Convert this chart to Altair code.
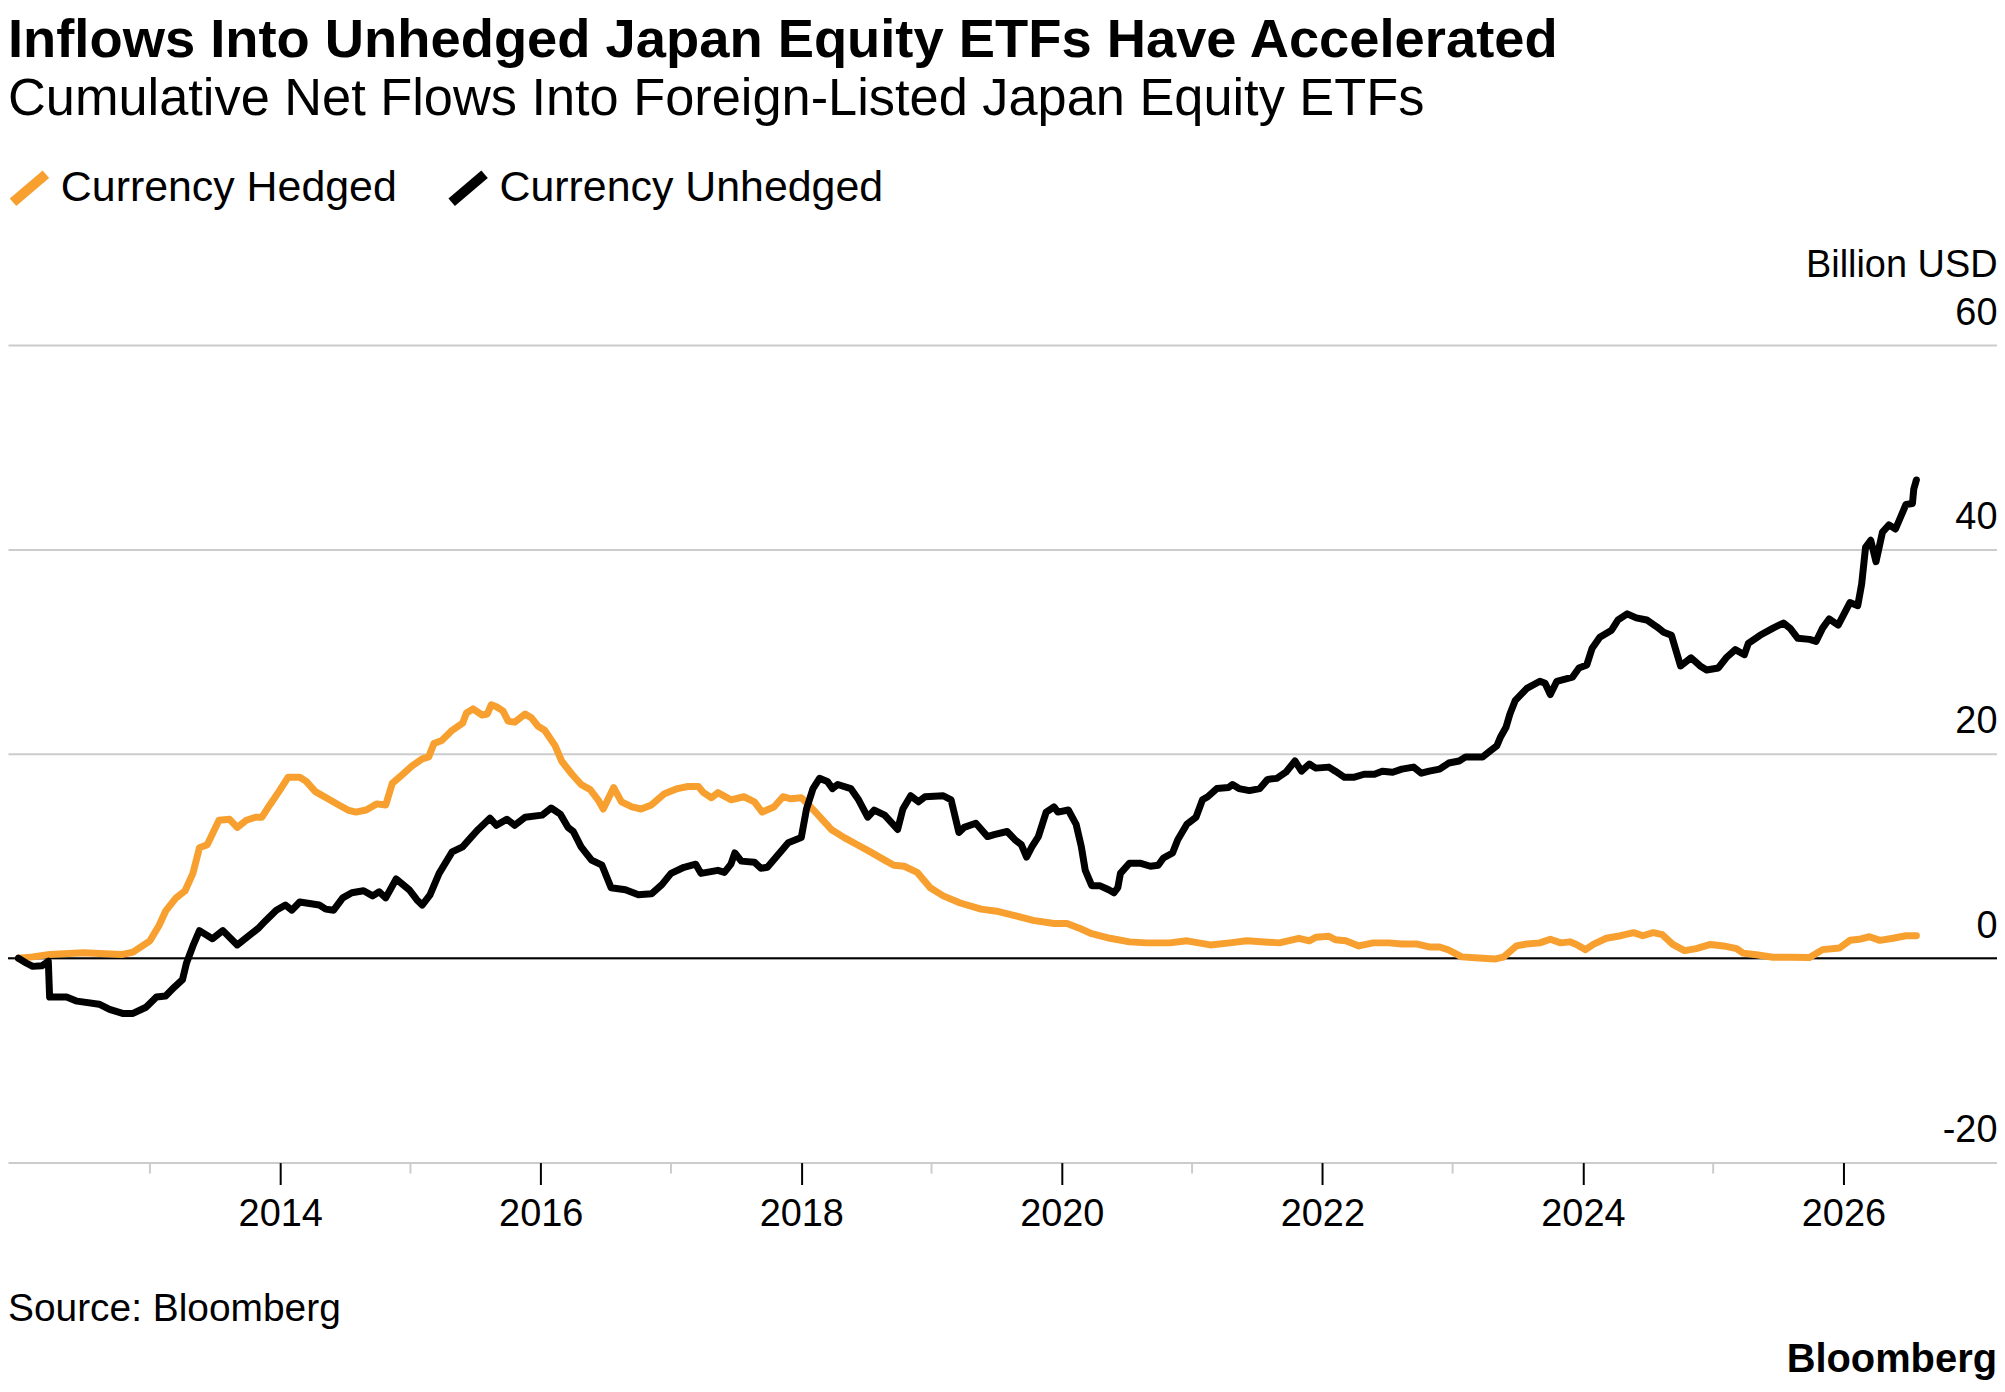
import altair as alt
import pandas as pd

TITLE = "Inflows Into Unhedged Japan Equity ETFs Have Accelerated"
SUBTITLE = "Cumulative Net Flows Into Foreign-Listed Japan Equity ETFs"
SOURCE = "Source: Bloomberg"
LOGO = "Bloomberg"
Y_TITLE = "Billion USD"

SERIES = ["Currency Hedged", "Currency Unhedged"]
COLORS = ["#F7A030", "#000000"]

Y_TICKS = [-20, 0, 20, 40, 60]
X_MAJOR = [2014, 2016, 2018, 2020, 2022, 2024, 2026]
X_MINOR = [2013, 2015, 2017, 2019, 2021, 2023, 2025]

# Currency Hedged (orange) - decimal year / billion USD
HEDGED_YEAR = [
    2011.99, 2012.10, 2012.23, 2012.49, 2012.61, 2012.79, 2012.87, 2013.00, 2013.07, 2013.12,
    2013.20, 2013.27, 2013.33, 2013.38, 2013.44, 2013.53, 2013.61, 2013.67, 2013.74, 2013.81,
    2013.86, 2013.92, 2013.99, 2014.06, 2014.15, 2014.20, 2014.27, 2014.38, 2014.45, 2014.52,
    2014.58, 2014.66, 2014.74, 2014.81, 2014.86, 2014.94, 2015.01, 2015.09, 2015.14, 2015.18,
    2015.24, 2015.32, 2015.40, 2015.43, 2015.48, 2015.55, 2015.59, 2015.62, 2015.66, 2015.71,
    2015.75, 2015.80, 2015.88, 2015.93, 2015.98, 2016.03, 2016.11, 2016.16, 2016.24, 2016.31,
    2016.38, 2016.44, 2016.48, 2016.56, 2016.62, 2016.70, 2016.77, 2016.85, 2016.95, 2017.05,
    2017.13, 2017.21, 2017.25, 2017.31, 2017.36, 2017.46, 2017.56, 2017.64, 2017.70, 2017.79,
    2017.86, 2017.92, 2018.00, 2018.05, 2018.13, 2018.23, 2018.33, 2018.43, 2018.53, 2018.64,
    2018.71, 2018.79, 2018.89, 2018.99, 2019.09, 2019.22, 2019.38, 2019.50, 2019.63, 2019.78,
    2019.94, 2020.04, 2020.14, 2020.23, 2020.37, 2020.52, 2020.65, 2020.83, 2020.96, 2021.14,
    2021.29, 2021.42, 2021.67, 2021.82, 2021.90, 2021.95, 2022.05, 2022.10, 2022.18, 2022.28,
    2022.39, 2022.51, 2022.61, 2022.72, 2022.82, 2022.90, 2022.97, 2023.07, 2023.20, 2023.33,
    2023.39, 2023.49, 2023.57, 2023.67, 2023.75, 2023.83, 2023.90, 2023.95, 2024.02, 2024.08,
    2024.18, 2024.29, 2024.39, 2024.46, 2024.54, 2024.61, 2024.69, 2024.78, 2024.87, 2024.98,
    2025.08, 2025.18, 2025.23, 2025.33, 2025.46, 2025.59, 2025.74, 2025.84, 2025.97, 2026.05,
    2026.12, 2026.20, 2026.28, 2026.38, 2026.48, 2026.56,
]
HEDGED_VALUE = [
    0.0, 0.13, 0.37, 0.54, 0.47, 0.37, 0.6, 1.7, 3.2, 4.6,
    5.9, 6.6, 8.3, 10.8, 11.1, 13.5, 13.6, 12.8, 13.5, 13.8,
    13.8, 15.0, 16.3, 17.7, 17.7, 17.3, 16.3, 15.5, 15.0, 14.5,
    14.3, 14.5, 15.1, 15.0, 17.1, 18.0, 18.8, 19.5, 19.7, 21.0,
    21.3, 22.3, 23.0, 24.0, 24.4, 23.8, 23.9, 24.8, 24.6, 24.2,
    23.2, 23.1, 23.9, 23.5, 22.7, 22.3, 20.8, 19.3, 18.0, 17.0,
    16.5, 15.5, 14.6, 16.7, 15.3, 14.8, 14.6, 15.0, 16.1, 16.6,
    16.8, 16.8, 16.2, 15.7, 16.2, 15.5, 15.8, 15.3, 14.3, 14.8,
    15.8, 15.6, 15.7, 15.1, 14.0, 12.6, 11.8, 11.1, 10.4, 9.6,
    9.1, 9.0, 8.4, 6.9, 6.1, 5.4, 4.8, 4.6, 4.2, 3.7,
    3.4, 3.4, 2.9, 2.4, 1.95, 1.6, 1.5, 1.5, 1.7, 1.3,
    1.5, 1.7, 1.5, 1.95, 1.7, 2.05, 2.15, 1.8, 1.7, 1.2,
    1.5, 1.5, 1.4, 1.4, 1.1, 1.1, 0.8, 0.13, 0.03, -0.07,
    0.1, 1.2, 1.4, 1.5, 1.85, 1.5, 1.6, 1.35, 0.84, 1.35,
    1.95, 2.2, 2.5, 2.2, 2.5, 2.3, 1.35, 0.74, 0.94, 1.35,
    1.2, 0.94, 0.5, 0.34, 0.1, 0.1, 0.07, 0.84, 1.0, 1.75,
    1.85, 2.1, 1.75, 1.95, 2.2, 2.2,
]

# Currency Unhedged (black) - decimal year / billion USD
UNHEDGED_YEAR = [
    2011.99, 2012.05, 2012.10, 2012.17, 2012.22, 2012.23, 2012.36, 2012.44, 2012.61, 2012.69,
    2012.79, 2012.87, 2012.97, 2013.05, 2013.12, 2013.19, 2013.25, 2013.28, 2013.33, 2013.38,
    2013.48, 2013.56, 2013.67, 2013.74, 2013.83, 2013.89, 2013.97, 2014.04, 2014.09, 2014.15,
    2014.30, 2014.35, 2014.41, 2014.48, 2014.55, 2014.64, 2014.71, 2014.76, 2014.81, 2014.89,
    2014.99, 2015.05, 2015.09, 2015.15, 2015.22, 2015.32, 2015.40, 2015.47, 2015.52, 2015.61,
    2015.66, 2015.74, 2015.80, 2015.88, 2016.01, 2016.08, 2016.15, 2016.21, 2016.25, 2016.31,
    2016.39, 2016.47, 2016.54, 2016.65, 2016.75, 2016.85, 2016.93, 2017.00, 2017.10, 2017.19,
    2017.23, 2017.36, 2017.41, 2017.46, 2017.49, 2017.54, 2017.64, 2017.69, 2017.74, 2017.84,
    2017.90, 2018.00, 2018.04, 2018.09, 2018.14, 2018.20, 2018.24, 2018.28, 2018.38, 2018.44,
    2018.51, 2018.56, 2018.64, 2018.74, 2018.78, 2018.84, 2018.90, 2018.95, 2019.09, 2019.15,
    2019.21, 2019.25, 2019.34, 2019.43, 2019.48, 2019.58, 2019.64, 2019.69, 2019.73, 2019.77,
    2019.82, 2019.88, 2019.94, 2019.97, 2020.05, 2020.11, 2020.15, 2020.18, 2020.23, 2020.29,
    2020.36, 2020.40, 2020.43, 2020.45, 2020.52, 2020.60, 2020.68, 2020.74, 2020.78, 2020.85,
    2020.89, 2020.96, 2021.03, 2021.08, 2021.12, 2021.19, 2021.28, 2021.31, 2021.36, 2021.44,
    2021.52, 2021.58, 2021.65, 2021.72, 2021.79, 2021.84, 2021.90, 2021.95, 2022.05, 2022.10,
    2022.17, 2022.24, 2022.32, 2022.40, 2022.46, 2022.54, 2022.61, 2022.70, 2022.76, 2022.82,
    2022.90, 2022.97, 2023.05, 2023.10, 2023.23, 2023.29, 2023.34, 2023.37, 2023.41, 2023.44,
    2023.48, 2023.57, 2023.67, 2023.71, 2023.75, 2023.80, 2023.92, 2023.97, 2024.03, 2024.07,
    2024.13, 2024.22, 2024.27, 2024.34, 2024.41, 2024.49, 2024.57, 2024.62, 2024.68, 2024.75,
    2024.83, 2024.90, 2024.95, 2025.04, 2025.10, 2025.17, 2025.24, 2025.27, 2025.36, 2025.46,
    2025.54, 2025.59, 2025.65, 2025.74, 2025.79, 2025.84, 2025.89, 2025.96, 2026.05, 2026.11,
    2026.14, 2026.17, 2026.21, 2026.25, 2026.30, 2026.35, 2026.40, 2026.44, 2026.48, 2026.53,
    2026.54, 2026.56,
]
UNHEDGED_VALUE = [
    0.0, -0.47, -0.8, -0.74, -0.3, -3.8, -3.8, -4.2, -4.5, -5.0,
    -5.4, -5.4, -4.8, -3.8, -3.7, -2.8, -2.1, -0.5, 1.2, 2.7,
    1.9, 2.7, 1.3, 2.0, 2.9, 3.7, 4.7, 5.2, 4.7, 5.5,
    5.2, 4.8, 4.7, 5.9, 6.4, 6.6, 6.1, 6.5, 5.9, 7.75,
    6.7, 5.7, 5.2, 6.2, 8.3, 10.4, 10.9, 11.9, 12.6, 13.7,
    13.0, 13.6, 13.0, 13.8, 14.0, 14.7, 14.1, 12.8, 12.4, 10.9,
    9.6, 9.1, 6.9, 6.7, 6.2, 6.3, 7.2, 8.3, 8.9, 9.2,
    8.3, 8.6, 8.4, 9.2, 10.3, 9.5, 9.4, 8.8, 8.9, 10.4,
    11.3, 11.8, 14.6, 16.6, 17.6, 17.3, 16.6, 17.0, 16.6, 15.5,
    13.8, 14.5, 14.0, 12.6, 14.6, 15.9, 15.3, 15.8, 15.9, 15.5,
    12.3, 12.8, 13.2, 11.9, 12.1, 12.4, 11.6, 11.1, 9.9, 10.9,
    11.9, 14.3, 14.8, 14.3, 14.5, 13.1, 10.9, 8.6, 7.1, 7.1,
    6.7, 6.4, 6.9, 8.3, 9.3, 9.3, 9.0, 9.1, 9.8, 10.3,
    11.6, 13.1, 13.8, 15.5, 15.8, 16.6, 16.7, 17.0, 16.6, 16.4,
    16.6, 17.5, 17.6, 18.2, 19.3, 18.3, 19.0, 18.6, 18.7, 18.3,
    17.7, 17.7, 18.0, 18.0, 18.3, 18.2, 18.5, 18.7, 18.1, 18.3,
    18.5, 19.1, 19.3, 19.7, 19.7, 20.3, 20.8, 21.7, 22.6, 23.9,
    25.2, 26.4, 27.1, 26.9, 25.8, 27.1, 27.5, 28.4, 28.7, 30.3,
    31.4, 32.1, 33.1, 33.7, 33.3, 33.1, 32.4, 31.9, 31.6, 28.6,
    29.4, 28.6, 28.2, 28.4, 29.4, 30.2, 29.7, 30.8, 31.6, 32.3,
    32.8, 32.3, 31.3, 31.2, 31.0, 32.3, 33.2, 32.6, 34.8, 34.5,
    36.6, 40.2, 40.9, 38.8, 41.7, 42.4, 42.0, 43.2, 44.4, 44.5,
    45.9, 46.8,
]

FONT = "Liberation Sans"
W, H = 1995, 820
X_DOMAIN = [2011.9105, 2027.179]
Y_DOMAIN = [-20, 60]

df = pd.concat([
    pd.DataFrame({"year": HEDGED_YEAR, "value": HEDGED_VALUE, "series": SERIES[0]}),
    pd.DataFrame({"year": UNHEDGED_YEAR, "value": UNHEDGED_VALUE, "series": SERIES[1]}),
], ignore_index=True)

x_scale = alt.Scale(domain=X_DOMAIN, nice=False, zero=False)
y_scale = alt.Scale(domain=Y_DOMAIN, nice=False, zero=False)

x_axis = alt.Axis(
    values=X_MAJOR, format="d", orient="bottom", domain=False, grid=False,
    ticks=True, tickSize=22, tickColor="black", tickWidth=2,
    labelFontSize=38, labelFont=FONT, labelColor="black",
    labelPadding=41, labelBaseline="alphabetic", labelFlush=False,
    labelOverlap=False, title=None,
)
y_axis = alt.Axis(
    values=Y_TICKS, orient="right", grid=True, gridColor="#cccccc", gridWidth=2,
    domain=False, ticks=False, tickSize=0,
    labelAlign="right", labelBaseline="alphabetic", labelOffset=-21, labelPadding=0,
    labelFontSize=38, labelFont=FONT, labelColor="black", labelFlush=False,
    labelOverlap=False, labelExpr="datum.value + ''",
    title=Y_TITLE, titleAngle=0, titleAlign="right", titleBaseline="alphabetic",
    titleX=0, titleY=-69, titleFontSize=38, titleFont=FONT,
    titleFontWeight="normal", titleColor="black",
)

zero_rule = alt.Chart(pd.DataFrame({"value": [0]})).mark_rule(
    color="black", strokeWidth=2
).encode(y=alt.Y("value:Q", scale=y_scale, axis=y_axis))

minor_ticks = alt.Chart(pd.DataFrame({"year": X_MINOR})).mark_rule(
    color="#cccccc", strokeWidth=2
).encode(
    x=alt.X("year:Q", scale=x_scale, axis=x_axis),
    y=alt.value(H),
    y2=alt.value(H + 11),
)

lines = alt.Chart(df).mark_line(
    strokeWidth=7, strokeJoin="round", strokeCap="round"
).encode(
    x=alt.X("year:Q", scale=x_scale, axis=x_axis),
    y=alt.Y("value:Q", scale=y_scale, axis=y_axis),
    color=alt.Color(
        "series:N",
        scale=alt.Scale(domain=SERIES, range=COLORS),
        legend=alt.Legend(
            orient="none", legendX=0, legendY=-179, direction="horizontal",
            title=None, symbolType="M-1,0.85L1,-0.85", symbolSize=1089,
            symbolStrokeWidth=10, labelFontSize=43, labelFont=FONT,
            labelColor="black", labelOffset=10, columnPadding=34, padding=0,
            labelLimit=1000,
        ),
    ),
    order=alt.Order("year:Q"),
)


def text_layer(txt, x, y, size, weight="normal", align="left"):
    return alt.Chart(pd.DataFrame({"t": [txt]})).mark_text(
        font=FONT, fontSize=size, fontWeight=weight, align=align,
        baseline="alphabetic", color="black",
    ).encode(text="t:N", x=alt.value(x), y=alt.value(y))


title = text_layer(TITLE, 0, -289, 54.5, "bold")
subtitle = text_layer(SUBTITLE, 0, -231, 52.5)
source = text_layer(SOURCE, 0, 979, 39)
logo = text_layer(LOGO, W, 1030, 40, "bold", "right")

chart = alt.layer(
    zero_rule, minor_ticks, lines, title, subtitle, source, logo
).properties(
    width=W, height=H,
    autosize=alt.AutoSizeParams(type="none"),
    padding={"left": 0, "top": 336, "right": 0, "bottom": 220},
    background="white",
).configure_view(strokeWidth=0)

chart.save("out.html", embed_options={"renderer": "svg", "actions": False})
